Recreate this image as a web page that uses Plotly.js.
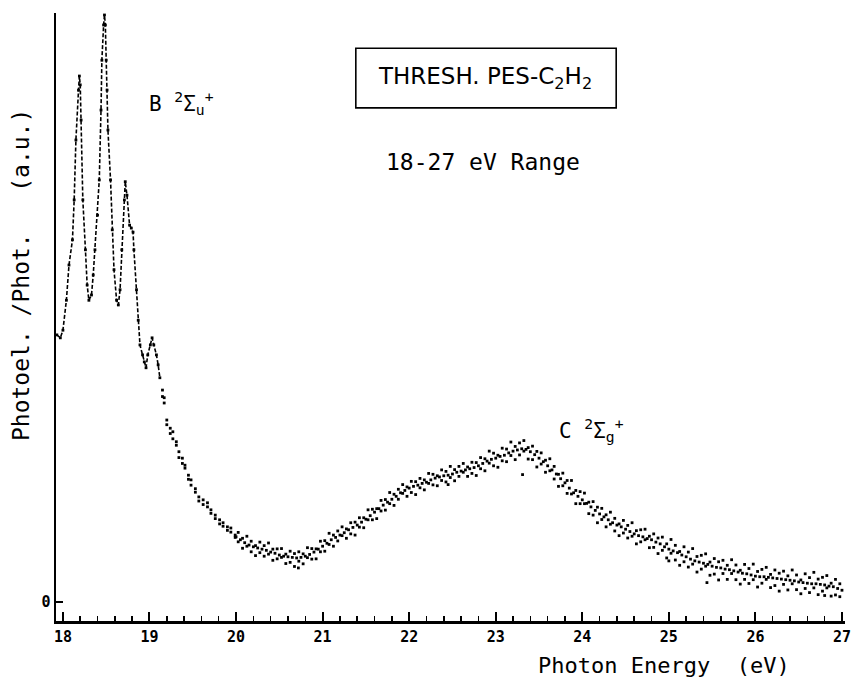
<!DOCTYPE html>
<html>
<head>
<meta charset="utf-8">
<script src="https://cdn.plot.ly/plotly-3.0.1.min.js"></script>
<style>html,body{margin:0;padding:0;background:#fff;}#chart{width:852px;height:683px;}</style>
</head>
<body>
<div id="chart"></div>
<script>
// B 2Σu+ band region (vibrational structure), photon energy in eV
const energyB = [17.93,17.97,18.00,18.04,18.07,18.11,18.13,18.15,18.18,18.19,18.20,18.21,18.23,18.26,18.28,18.30,18.33,18.35,18.37,18.40,18.42,18.44,18.45,18.47,18.48,18.49,18.50,18.51,18.52,18.55,18.57,18.59,18.62,18.64,18.66,18.68,18.71,18.72,18.74,18.77,18.79,18.81,18.82,18.85,18.87,18.89,18.92,18.94,18.96,18.98,19.01,19.03,19.05,19.08,19.10,19.12];
const signalB = [45.5,45.0,46.3,51.4,57.4,61.7,68.5,78.7,87.2,89.6,88.1,82.1,68.5,60.0,54.0,51.4,52.3,55.7,60.0,65.9,71.9,83.8,92.3,98.3,100,98.3,92.3,87.2,80.4,71.9,63.4,56.6,51.4,50.6,53.2,60.0,68.5,71.6,69.3,64.2,63.7,63.0,60.0,53.2,48.0,43.8,42.1,40.9,39.9,42.1,43.8,45.0,43.8,42.1,40.4,38.2];

// decline after the B band
const energyD = [19.15,19.17,19.20,19.24,19.27,19.31,19.34,19.38,19.41,19.45,19.48,19.53,19.57,19.62,19.67,19.71,19.76,19.81,19.85,19.90,19.94,19.99];
const signalD = [36.1,33.9,31.0,29.6,29.0,26.7,25.6,24.5,22.8,21.6,20.8,18.7,17.9,17.4,16.9,15.7,14.8,14.0,13.5,12.8,12.6,11.4];
const signalD2 = [35.0,34.8,30.2,28.7,27.8,27.3,24.6,23.6,23.3,20.9,19.9,19.3,17.2,16.6,16.2,15.1,14.2,13.3,12.9,12.2,11.9,11.0];

// C 2Σg+ band region: central readings
const energyC = [20.00,20.05,20.10,20.15,20.20,20.25,20.30,20.35,20.40,20.45,20.50,20.55,20.60,20.65,20.70,20.75,20.80,20.85,20.90,20.95,
21.00,21.05,21.10,21.15,21.20,21.25,21.30,21.35,21.40,21.45,21.50,21.55,21.60,21.65,21.70,21.75,21.80,21.85,21.90,21.95,
22.00,22.05,22.10,22.15,22.20,22.25,22.30,22.35,22.40,22.45,22.50,22.55,22.60,22.65,22.70,22.75,22.80,22.85,22.90,22.95,
23.00,23.05,23.10,23.15,23.20,23.25,23.30,23.35,23.40,23.45,23.50,23.55,23.60,23.65,23.70,23.75,23.80,23.85,23.90,23.95,
24.00,24.05,24.10,24.15,24.20,24.25,24.30,24.35,24.40,24.45,24.50,24.55,24.60,24.65,24.70,24.75,24.80,24.85,24.90,24.95,
25.00,25.05,25.10,25.15,25.20,25.25,25.30,25.35,25.40,25.45,25.50,25.55,25.60,25.65,25.70,25.75,25.80,25.85,25.90,25.95,
26.00,26.05,26.10,26.15,26.20,26.25,26.30,26.35,26.40,26.45,26.50,26.55,26.60,26.65,26.70,26.75,26.80,26.85,26.90,26.95,27.00];
const signalCmid = [11.1,10.6,10.1,9.7,9.4,9.2,9.0,8.8,8.5,8.3,8.0,7.8,7.7,7.6,7.5,7.6,7.8,8.1,8.5,9.0,
9.5,10.0,10.6,11.0,11.4,11.8,12.3,12.7,13.1,13.6,14.1,14.7,15.3,15.9,16.5,17.0,17.5,18.0,18.6,19.0,
19.4,19.7,19.9,20.2,20.4,20.8,21.1,21.3,21.5,21.6,21.8,22.1,22.3,22.5,22.7,22.9,23.2,23.6,24.0,24.3,
24.5,24.8,25.0,25.4,25.7,25.9,26.1,26.0,25.6,25.1,24.5,23.9,23.2,22.5,21.8,21.0,20.3,19.4,18.6,18.0,
17.4,16.8,16.2,15.6,15.0,14.5,14.0,13.5,13.1,12.8,12.4,12.0,11.6,11.3,11.1,10.8,10.6,10.2,9.9,9.4,
9.0,8.7,8.4,8.0,7.7,7.3,7.0,6.8,6.6,6.4,6.1,5.9,5.8,5.6,5.5,5.3,5.1,4.9,4.8,4.6,
4.4,4.3,4.3,4.2,4.1,4.0,3.9,3.8,3.7,3.6,3.4,3.3,3.2,3.1,3.1,3.0,2.9,2.7,2.6,2.3,2.0];

// C band: scattered readings between the central ones (upper and lower edge of the dot band)
const energyCb = [20.025,20.075,20.125,20.175,20.225,20.275,20.325,20.375,20.425,20.475,20.525,20.575,20.625,20.675,20.725,20.775,20.825,20.875,20.925,20.975,
21.025,21.075,21.125,21.175,21.225,21.275,21.325,21.375,21.425,21.475,21.525,21.575,21.625,21.675,21.725,21.775,21.825,21.875,21.925,21.975,
22.025,22.075,22.125,22.175,22.225,22.275,22.325,22.375,22.425,22.475,22.525,22.575,22.625,22.675,22.725,22.775,22.825,22.875,22.925,22.975,
23.025,23.075,23.125,23.175,23.225,23.275,23.325,23.375,23.425,23.475,23.525,23.575,23.625,23.675,23.725,23.775,23.825,23.875,23.925,23.975,
24.025,24.075,24.125,24.175,24.225,24.275,24.325,24.375,24.425,24.475,24.525,24.575,24.625,24.675,24.725,24.775,24.825,24.875,24.925,24.975,
25.025,25.075,25.125,25.175,25.225,25.275,25.325,25.375,25.425,25.475,25.525,25.575,25.625,25.675,25.725,25.775,25.825,25.875,25.925,25.975,
26.025,26.075,26.125,26.175,26.225,26.275,26.325,26.375,26.425,26.475,26.525,26.575,26.625,26.675,26.725,26.775,26.825,26.875,26.925,26.975];
const signalChigh = [11.85,10.85,11.2,10.35,9.6,10.2,9.6,10.05,9.0,9.05,9.1,8.15,8.65,8.25,
8.55,8.2,9.25,9.1,9.05,10.35,10.45,11.7,11.4,12.1,12.8,12.45,13.5,13.6,
14.35,14.35,15.7,15.8,15.9,17.3,17.45,18.65,18.35,19.2,20.0,19.6,20.55,20.5,
21.05,20.8,21.9,21.75,21.5,22.5,22.25,23.1,22.55,23.1,23.6,23.0,23.8,23.75,
24.6,24.4,25.7,25.35,25.0,26.2,26.05,27.25,26.5,27.1,27.5,26.3,26.55,25.65,
25.4,24.15,24.4,23.1,21.75,21.95,20.7,20.7,19.0,18.8,18.55,17.0,17.1,16.15,
15.95,14.85,15.3,14.25,13.3,13.9,13.05,13.5,12.15,12.3,12.4,11.2,11.6,10.9,
11.05,9.9,10.65,9.65,8.6,9.4,8.5,9.1,7.75,7.95,8.2,6.8,7.4,6.85,
7.1,6.25,7.2,6.3,5.4,6.4,5.7,6.45,5.2,5.55,5.9,4.7,5.45,4.9,
5.25,4.45,5.45,4.6,3.75,4.8,4.15,5.05,3.9,4.2,4.5,3.2,3.85,3.1];
const signalClow = [10.25,9.15,9.5,8.55,7.9,8.4,7.8,8.15,7.1,7.35,7.6,6.55,6.75,6.05,
6.95,6.5,7.55,7.3,7.35,8.55,8.65,9.8,9.5,10.4,11.3,10.85,11.6,11.4,
12.75,12.65,14.0,14.0,14.2,15.5,15.65,16.75,16.45,17.5,18.5,18.0,18.65,18.3,
19.45,19.1,20.2,19.95,19.8,20.7,20.45,21.2,20.65,21.4,22.1,21.4,21.9,21.55,
22.7,22.35,23.65,23.2,22.95,24.05,23.9,24.95,24.25,25.05,25.7,24.35,24.25,23.0,
23.5,22.1,22.35,20.95,19.7,19.8,18.5,18.4,16.75,16.75,16.75,15.05,14.8,13.5,
14.05,12.8,13.25,12.1,11.3,11.75,10.9,11.2,9.9,10.25,10.6,9.25,9.3,8.25,
8.8,7.5,8.3,7.15,6.25,6.85,5.95,6.45,5.1,5.6,6.1,4.55,4.75,3.75,
4.85,3.85,4.85,3.8,3.05,3.85,3.15,3.8,2.55,3.2,3.85,2.45,2.8,1.85,
3.0,2.05,3.1,2.1,1.4,2.3,1.6,2.4,1.25,1.85,2.4,1.0,1.2,0.9];

// isolated stray readings
const energyOut = [20.72,22.45,23.31,25.00,25.44,26.80];
const signalOut = [5.8,20.0,21.7,7.0,3.3,1.1];

const xTickVals = [18,19,20,21,22,23,24,25,26,27];
const xTickText = ['18','19','20','21','22','23','24','25','26','27'];

const dotMarker = {color:'#000', size:2.8, symbol:'square'};
const traces = [
  {x:energyB, y:signalB, type:'scatter', mode:'lines+markers',
   line:{color:'#000', width:1.6, dash:'4px,2px'}, marker:{color:'#000', size:2.8, symbol:'square'}, hoverinfo:'skip'},
  {x:energyD, y:signalD, type:'scatter', mode:'markers', marker:dotMarker, hoverinfo:'skip'},
  {x:energyD, y:signalD2, type:'scatter', mode:'markers', marker:dotMarker, hoverinfo:'skip'},
  {x:energyC, y:signalCmid, type:'scatter', mode:'markers', marker:dotMarker, hoverinfo:'skip'},
  {x:energyCb, y:signalChigh, type:'scatter', mode:'markers', marker:dotMarker, hoverinfo:'skip'},
  {x:energyCb, y:signalClow, type:'scatter', mode:'markers', marker:dotMarker, hoverinfo:'skip'},
  {x:energyOut, y:signalOut, type:'scatter', mode:'markers', marker:dotMarker, hoverinfo:'skip'}
];

const mono = 'DejaVu Sans Mono';
const layout = {
  width:852, height:683,
  margin:{l:56, r:7, t:13, b:62},
  paper_bgcolor:'#fff', plot_bgcolor:'#fff',
  showlegend:false,
  xaxis:{
    range:[17.92, 27.035], showline:true, linecolor:'#000', linewidth:2.5,
    ticks:'inside', ticklen:9, tickwidth:2, tickcolor:'#000',
    tickvals:xTickVals, ticktext:xTickText,
    tickfont:{family:mono, size:15, color:'#000', weight:'bold'},
    minor:{dtick:0.2, tick0:18, ticks:'inside', ticklen:5, tickwidth:1.5, tickcolor:'#000', showgrid:false},
    showgrid:false, zeroline:false
  },
  yaxis:{
    range:[-3.24, 100.34], showline:true, linecolor:'#000', linewidth:2.5,
    ticks:'inside', ticklen:7, tickwidth:2, tickcolor:'#000',
    tickvals:[0], ticktext:['0'],
    tickfont:{family:mono, size:15, color:'#000', weight:'bold'},
    showgrid:false, zeroline:false
  },
  shapes:[
    {type:'rect', xref:'paper', yref:'paper', x0:0.380, x1:0.710, y0:0.844, y1:0.942,
     line:{color:'#000', width:1.6}}
  ],
  annotations:[
    {xref:'paper', yref:'paper', x:0.5437, y:0.893, showarrow:false, xanchor:'center', yanchor:'middle',
     text:'THRESH. PES-C<sub>2</sub>H<sub>2</sub>', font:{family:'DejaVu Sans', size:23, color:'#000'}},
    {xref:'paper', yref:'paper', x:0.541, y:0.755, showarrow:false, xanchor:'center', yanchor:'middle',
     text:'18-27 eV Range', font:{family:mono, size:23, color:'#000'}},
    {xref:'paper', yref:'paper', x:0.1153, y:0.852, showarrow:false, xanchor:'left', yanchor:'middle',
     text:'B <sup>2</sup>Σ<sub>u</sub><sup>+</sup>', font:{family:mono, size:21, color:'#000'}},
    {xref:'paper', yref:'paper', x:0.635, y:0.314, showarrow:false, xanchor:'left', yanchor:'middle',
     text:'C <sup>2</sup>Σ<sub>g</sub><sup>+</sup>', font:{family:mono, size:21, color:'#000'}},
    {xref:'paper', yref:'paper', x:0.7706, y:-0.0724, showarrow:false, xanchor:'center', yanchor:'middle',
     text:'Photon Energy&nbsp;&nbsp;(eV)', font:{family:mono, size:22, color:'#000'}},
    {xref:'paper', yref:'paper', x:-0.0444, y:0.569, showarrow:false, xanchor:'center', yanchor:'middle', textangle:-90,
     text:'Photoel. /Phot.&nbsp;&nbsp;&nbsp;(a.u.)', font:{family:mono, size:23, color:'#000'}}
  ]
};

Plotly.newPlot('chart', traces, layout, {staticPlot:true, displayModeBar:false});
</script>
</body>
</html>
